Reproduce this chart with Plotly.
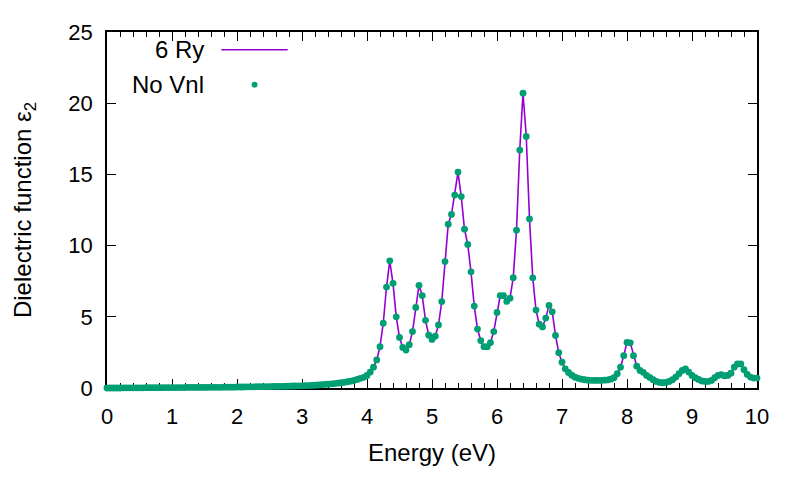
import numpy as np
import plotly.graph_objects as go

# ── Data (0.05 eV grid) ───────────────────────────────────────────────────────
energy = np.round(np.arange(201) * 0.05, 2)

eps2_6ry = [
    # 0.00 – 1.95
    0.00, 0.00, 0.00, 0.00, 0.00, 0.01, 0.01, 0.01, 0.01, 0.01,
    0.01, 0.01, 0.02, 0.02, 0.02, 0.02, 0.02, 0.02, 0.03, 0.03,
    0.03, 0.03, 0.03, 0.03, 0.03, 0.04, 0.04, 0.04, 0.04, 0.04,
    0.04, 0.05, 0.05, 0.05, 0.05, 0.05, 0.06, 0.06, 0.06, 0.06,
    # 2.00 – 2.95
    0.07, 0.07, 0.07, 0.08, 0.08, 0.08, 0.09, 0.09, 0.09, 0.10,
    0.10, 0.11, 0.11, 0.12, 0.12, 0.13, 0.13, 0.14, 0.14, 0.15,
    # 3.00 – 3.95
    0.15, 0.16, 0.17, 0.18, 0.20, 0.21, 0.23, 0.25, 0.27, 0.29,
    0.31, 0.34, 0.37, 0.40, 0.44, 0.48, 0.54, 0.60, 0.68, 0.75,
    # 4.00 – 4.95
    0.88, 1.12, 1.46, 1.97, 2.90, 4.55, 7.09, 8.93, 7.35, 5.00,
    3.55, 2.85, 2.67, 3.04, 3.96, 5.66, 7.21, 6.49, 4.75, 3.71,
    # 5.00 – 5.95
    3.41, 3.64, 4.43, 6.07, 8.88, 11.50, 12.19, 13.55, 15.16, 13.44,
    11.15, 10.08, 8.16, 5.75, 4.14, 3.33, 2.90, 2.90, 3.19, 3.96,
    # 6.00 – 6.95
    5.31, 6.49, 6.49, 6.08, 6.31, 7.75, 11.08, 16.71, 20.70, 17.66,
    11.87, 7.74, 5.47, 4.48, 4.29, 4.91, 5.80, 5.35, 3.69, 2.48,
    # 7.00 – 7.95
    1.81, 1.35, 1.09, 0.90, 0.76, 0.68, 0.62, 0.58, 0.55, 0.54,
    0.53, 0.53, 0.54, 0.55, 0.57, 0.62, 0.72, 1.00, 1.46, 2.27,
    # 8.00 – 8.95
    3.20, 3.17, 2.27, 1.53, 1.23, 1.10, 0.88, 0.74, 0.58, 0.46,
    0.39, 0.37, 0.39, 0.46, 0.58, 0.77, 1.00, 1.23, 1.35, 1.12,
    # 9.00 – 10.00
    0.88, 0.72, 0.60, 0.50, 0.46, 0.46, 0.53, 0.72, 0.88, 0.93,
    0.86, 0.88, 1.04, 1.46, 1.69, 1.69, 1.28, 0.95, 0.77, 0.70,
    0.70,
]
# the "No Vnl" points sit on top of the 6 Ry curve
eps2_novnl = list(eps2_6ry)

x_ticks = list(range(0, 11))
y_ticks = [0, 5, 10, 15, 20, 25]

PURPLE = "#9400D3"
GREEN = "#009E73"
FONT = "Liberation Sans, Arial, sans-serif"

fig = go.Figure()
fig.add_trace(go.Scatter(
    x=energy, y=eps2_6ry, mode="lines", name="6 Ry",
    line=dict(color=PURPLE, width=1.6), cliponaxis=False,
))
fig.add_trace(go.Scatter(
    x=energy, y=eps2_novnl, mode="markers", name="No Vnl",
    marker=dict(color=GREEN, size=6.8, line=dict(width=0)), cliponaxis=False,
))

axis_common = dict(
    showline=True, linecolor="black", linewidth=1.5, mirror="ticks",
    ticks="inside", ticklen=9, tickwidth=1.3, tickcolor="black",
    showgrid=False, zeroline=False, layer="below traces",
    tickfont=dict(size=22, color="black", family=FONT),
)
title_font = dict(size=24, family=FONT, color="black")

fig.update_xaxes(
    range=[0, 10], tickvals=x_ticks, ticklabelstandoff=8,
    minor=dict(ticks="inside", dtick=0.2, ticklen=5, tickwidth=1.1, tickcolor="black"),
    title=dict(text="Energy (eV)", font=title_font, standoff=16),
    **axis_common,
)
fig.update_yaxes(
    range=[0, 25], tickvals=y_ticks, ticklabelstandoff=8,
    title=dict(text="Dielectric function ε<sub>2</sub>", font=title_font, standoff=30),
    **axis_common,
)

# gnuplot-style key: text on the left, sample on the right
key_font = dict(size=24, family=FONT, color="black")
fig.add_annotation(xref="paper", yref="paper", x=0.152, y=0.950, text="6 Ry",
                   showarrow=False, xanchor="right", yanchor="middle", font=key_font)
fig.add_annotation(xref="paper", yref="paper", x=0.152, y=0.852, text="No Vnl",
                   showarrow=False, xanchor="right", yanchor="middle", font=key_font)
fig.add_shape(type="line", xref="paper", yref="paper", x0=0.176, x1=0.278, y0=0.950, y1=0.950,
              line=dict(color=PURPLE, width=1.6))
fig.add_shape(type="circle", xref="paper", yref="paper",
              x0=0.227 - 0.0045, x1=0.227 + 0.0045, y0=0.852 - 0.008, y1=0.852 + 0.008,
              fillcolor=GREEN, line=dict(width=0))

fig.update_layout(
    width=800, height=480,
    plot_bgcolor="white", paper_bgcolor="white",
    font=dict(family=FONT, color="black"),
    showlegend=False,
    margin=dict(l=99, r=51, t=21, b=100),
)
fig.write_html("out.html")
